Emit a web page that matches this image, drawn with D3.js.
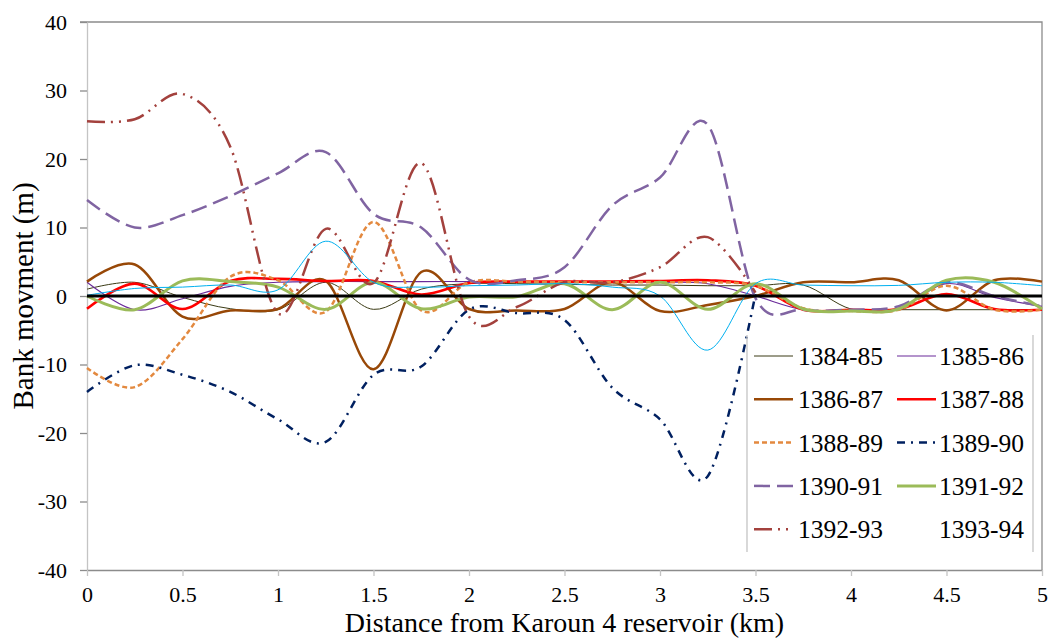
<!DOCTYPE html>
<html>
<head>
<meta charset="utf-8">
<script src="https://cdn.jsdelivr.net/npm/d3@7"></script>
<style>
  body { margin: 0; background: #fff; }
  svg text { font-family: "Liberation Serif", "Times New Roman", serif; fill: #000; }
</style>
</head>
<body>
<div id="chart"></div>
<script>
// distance along river (km), one cross-section every 0.25 km
const distance = [0, 0.25, 0.5, 0.75, 1, 1.25, 1.5, 1.75, 2, 2.25, 2.5, 2.75, 3, 3.25, 3.5, 3.75, 4, 4.25, 4.5, 4.75, 5];

// bank movement (m) per period
const yr1384_85 = [1.0, 2.0, -0.2, -1.85, -2.0, 2.0, -1.95, 1.0, 1.8, 1.8, 1.7, 1.6, 1.6, 1.5, 1.5, 1.6, -1.9, -2.0, -2.0, -2.0, -2.0];
const yr1385_86 = [2.0, -2.0, -0.4, 1.4, 2.0, 2.1, 2.1, 2.1, 2.1, 2.0, 2.0, 2.0, 2.0, 1.8, 0.0, -2.0, -2.0, -1.8, 1.8, -0.2, -1.5];
const yr1386_87 = [2.1, 4.6, -3.0, -2.1, -1.9, 2.2, -10.7, 3.5, -1.9, -2.1, -1.9, 2.0, -2.2, -1.3, 0.0, 2.0, 2.0, 2.3, -2.1, 2.3, 2.1];
const yr1387_88 = [-1.85, 1.8, -1.9, 2.2, 2.5, 2.2, 2.2, 0.2, 1.9, 2.1, 2.1, 2.1, 2.2, 2.3, 1.5, -2.0, -2.0, -1.9, 0.3, -1.9, -2.0];
const yr1388_89 = [-10.5, -13.3, -6.3, 2.8, 2.3, -2.3, 10.8, -2.1, 2.0, 2.1, 2.0, 2.0, 2.0, 2.0, 1.5, -1.8, -2.2, -2.0, 1.5, -2.0, -2.0];
const yr1389_90 = [-14.0, -10.1, -11.5, -14.0, -18.0, -21.3, -11.5, -10.3, -2.0, -2.5, -3.5, -13.4, -18.0, -26.3, 0.3, null, null, null, null, null, null];
const yr1390_91 = [14.0, 10.0, 11.8, 14.6, 17.9, 21.0, 12.0, 10.0, 2.4, 2.3, 4.2, 13.2, 17.3, 25.0, -0.3, -2.0, -2.0, -1.5, 2.0, 0.0, -1.5];
const yr1391_92 = [0.0, -2.0, 2.2, 2.1, 1.3, -1.95, 2.0, -1.85, -0.15, -0.1, 1.8, -2.0, 2.0, -1.95, 1.8, -1.9, -2.2, -1.9, 2.3, 2.0, -1.9];
const yr1392_93 = [25.5, 25.8, 29.5, 21.8, -2.5, 9.8, 1.9, 19.4, -3.0, -1.6, 2.0, 2.0, 4.2, 8.6, 0.5, null, null, null, null, null, null];
const yr1393_94 = [0.1, 1.1, 1.3, 1.6, 0.9, 8.0, 2.0, 1.3, 1.5, 1.6, 1.8, 1.3, 0.0, -7.9, 1.8, 1.6, 1.5, 1.55, 2.0, 2.0, 1.5];

const seriesNames = ["1384-85", "1385-86", "1386-87", "1387-88", "1388-89", "1389-90", "1390-91", "1391-92", "1392-93", "1393-94"];
const seriesValues = [yr1384_85, yr1385_86, yr1386_87, yr1387_88, yr1388_89, yr1389_90, yr1390_91, yr1391_92, yr1392_93, yr1393_94];

const xTicks = [0, 0.5, 1, 1.5, 2, 2.5, 3, 3.5, 4, 4.5, 5];
const yTicks = [-40, -30, -20, -10, 0, 10, 20, 30, 40];

// line styles, same order as seriesNames
const styles = [
  { color: "#3a3a14", width: 1, dash: null, legend: true },
  { color: "#6a2a9a", width: 1.1, dash: null, legend: true },
  { color: "#984807", width: 2.5, dash: null, legend: true },
  { color: "#ff0000", width: 2.6, dash: null, legend: true },
  { color: "#e3893f", width: 2.5, dash: "5,3", legend: true },
  { color: "#002060", width: 2.5, dash: "8,6,2,6", legend: true },
  { color: "#8064a2", width: 2.5, dash: "16,7", legend: true },
  { color: "#9bbb59", width: 3, dash: null, legend: true },
  { color: "#a3413d", width: 2.5, dash: "18,6,2,6,2,6", legend: true },
  { color: "#00b0f0", width: 1, dash: null, legend: false }
];

const width = 1050, height = 639;
const margin = { left: 87, right: 8, top: 22, bottom: 69 };

const svg = d3.select("#chart").append("svg")
  .attr("width", width)
  .attr("height", height);

const x = d3.scaleLinear().domain([0, 5]).range([margin.left, width - margin.right]);
const y = d3.scaleLinear().domain([-40, 40]).range([height - margin.bottom, margin.top]);

// frame (top and right)
svg.append("path")
  .attr("d", `M${x(0) - 7},${y(40)}H${x(5)}V${y(-40)}`)
  .attr("fill", "none")
  .attr("stroke", "#8c8c8c")
  .attr("stroke-width", 1.3);

// axes
const yAxis = svg.append("g")
  .attr("transform", `translate(${x(0)},0)`)
  .call(d3.axisLeft(y).tickValues(yTicks).tickSize(7).tickSizeOuter(0).tickPadding(13).tickFormat(d => String(d)));
yAxis.select(".domain").attr("stroke", "#c4c4c4").attr("stroke-width", 1.3);
yAxis.selectAll(".tick line").attr("stroke", "#8c8c8c").attr("stroke-width", 1.3);
yAxis.selectAll(".tick text").style("font-size", "22px").attr("fill", "#000");

const xAxis = svg.append("g")
  .attr("transform", `translate(0,${y(-40)})`)
  .call(d3.axisBottom(x).tickValues(xTicks).tickSize(6).tickSizeOuter(0).tickPadding(10).tickFormat(d => String(d)));
xAxis.select(".domain").attr("stroke", "#8c8c8c").attr("stroke-width", 1.3);
xAxis.selectAll(".tick line").attr("stroke", "#c4c4c4").attr("stroke-width", 1.3);
xAxis.selectAll(".tick text").style("font-size", "22px").attr("fill", "#000");

// series
const line = d3.line()
  .defined(d => d[1] != null)
  .x(d => x(d[0]))
  .y(d => y(d[1]))
  .curve(d3.curveCardinal.tension(0));

const seriesG = svg.append("g");
seriesValues.forEach((vals, i) => {
  const st = styles[i];
  seriesG.append("path")
    .datum(distance.map((dv, j) => [dv, vals[j]]))
    .attr("d", line)
    .attr("fill", "none")
    .attr("stroke", st.color)
    .attr("stroke-width", st.width)
    .attr("stroke-dasharray", st.dash)
    .attr("stroke-linejoin", "round");
});

// zero line
svg.append("line")
  .attr("x1", x(0)).attr("x2", x(5))
  .attr("y1", y(0)).attr("y2", y(0))
  .attr("stroke", "#000")
  .attr("stroke-width", 3);

// axis titles
svg.append("text")
  .attr("x", (x(0) + x(5)) / 2)
  .attr("y", 632)
  .attr("text-anchor", "middle")
  .style("font-size", "28px")
  .text("Distance from Karoun 4 reservoir (km)");

svg.append("text")
  .attr("transform", `translate(33,${y(0)}) rotate(-90)`)
  .attr("text-anchor", "middle")
  .style("font-size", "29px")
  .text("Bank movment (m)");

// legend
const legend = svg.append("g");
legend.append("line").attr("x1", 747).attr("x2", 747).attr("y1", 335).attr("y2", 552)
  .attr("stroke", "#c4c4c4").attr("stroke-width", 1.3);
legend.append("line").attr("x1", 1033).attr("x2", 1033).attr("y1", 335).attr("y2", 552)
  .attr("stroke", "#c4c4c4").attr("stroke-width", 1.3);

const colX = [754, 897];
seriesNames.forEach((name, i) => {
  const st = styles[i];
  const col = i % 2, row = Math.floor(i / 2);
  const ly = 356 + row * 43.3;
  const g = legend.append("g").attr("transform", `translate(${colX[col]},${ly})`);
  if (st.legend) {
    g.append("line")
      .attr("x1", 0).attr("x2", 39)
      .attr("stroke", st.color)
      .attr("stroke-width", st.width)
      .attr("stroke-dasharray", st.dash);
  }
  g.append("text")
    .attr("x", 43 + (col ? -1 : 1))
    .attr("y", 9)
    .style("font-size", "25.5px")
    .text(name);
});
</script>
</body>
</html>
